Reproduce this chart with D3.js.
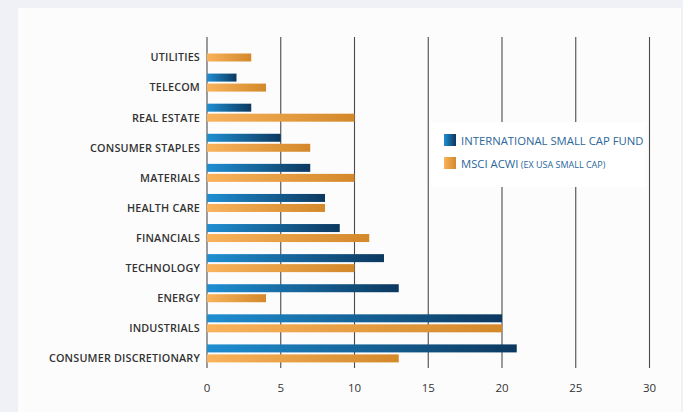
<!DOCTYPE html>
<html>
<head>
<meta charset="utf-8">
<script src="https://cdn.jsdelivr.net/npm/d3@7"></script>
<style>
  html, body { margin: 0; padding: 0; background: #eff1f6; }
  svg { display: block; }
</style>
</head>
<body>
<div id="chart"></div>
<script>
// data, top to bottom
var categories = ["UTILITIES", "TELECOM", "REAL ESTATE", "CONSUMER STAPLES", "MATERIALS",
  "HEALTH CARE", "FINANCIALS", "TECHNOLOGY", "ENERGY", "INDUSTRIALS", "CONSUMER DISCRETIONARY"];
var fundValues = [0, 2, 3, 5, 7, 8, 9, 12, 13, 20, 21];
var indexValues = [3, 4, 10, 7, 10, 8, 11, 10, 4, 20, 13];
var seriesNames = ["INTERNATIONAL SMALL CAP FUND", "MSCI ACWI"];
var seriesNote = ["", "(EX USA SMALL CAP)"];
var xTicks = [0, 5, 10, 15, 20, 25, 30];

var width = 683, height = 412;

var svg = d3.select("#chart").append("svg")
    .attr("width", width)
    .attr("height", height);

// gradients
var defs = svg.append("defs");
function gradient(id, c0, c1) {
  var g = defs.append("linearGradient").attr("id", id)
      .attr("x1", "0%").attr("x2", "100%").attr("y1", "0%").attr("y2", "0%");
  g.append("stop").attr("offset", "0%").attr("stop-color", c0);
  g.append("stop").attr("offset", "100%").attr("stop-color", c1);
}
gradient("gBlue", "#1f8fd2", "#0c385f");
gradient("gOrange", "#f9b35c", "#d3882a");
var fills = ["url(#gBlue)", "url(#gOrange)"];

// white panel
svg.append("rect")
    .attr("x", 18).attr("y", 8)
    .attr("width", 663).attr("height", height - 8)
    .attr("fill", "#fcfcfd");

var xScale = d3.scaleLinear()
    .domain([0, 30])
    .range([207, 649.5]);

var yScale = d3.scaleBand()
    .domain(categories)
    .range([37, 368]);

var ySub = d3.scaleBand()
    .domain([0, 1])
    .range([6.5, 24.5])
    .paddingInner(0.2);

// grid lines
svg.append("g").selectAll("line")
    .data(xTicks)
  .enter().append("line")
    .attr("x1", function(d) { return xScale(d); })
    .attr("x2", function(d) { return xScale(d); })
    .attr("y1", 37)
    .attr("y2", 368)
    .style("stroke", "#4a4a4a")
    .style("stroke-width", 1.1);

// tick labels
svg.append("g").selectAll("text")
    .data(xTicks)
  .enter().append("text")
    .attr("x", function(d) { return xScale(d); })
    .attr("y", 392)
    .attr("text-anchor", "middle")
    .style("font-family", "'Open Sans', sans-serif")
    .style("font-size", "11.5px")
    .style("fill", "#333")
    .text(function(d) { return d; });

// bars
var rows = categories.map(function(c, i) {
  return {cat: c, vals: [fundValues[i], indexValues[i]]};
});

var rowG = svg.append("g").selectAll("g")
    .data(rows)
  .enter().append("g")
    .attr("transform", function(d) { return "translate(0," + yScale(d.cat) + ")"; });

rowG.selectAll("rect")
    .data(function(d) { return d.vals.map(function(v, k) { return {v: v, k: k}; }); })
  .enter().append("rect")
    .filter(function(d) { return d.v > 0; })
    .attr("x", xScale(0))
    .attr("y", function(d) { return ySub(d.k); })
    .attr("width", function(d) { return xScale(d.v) - xScale(0); })
    .attr("height", ySub.bandwidth())
    .attr("fill", function(d) { return fills[d.k]; });

// category labels
rowG.append("text")
    .attr("x", 200)
    .attr("y", ySub(1) + ySub.bandwidth() / 2)
    .attr("dy", "0.36em")
    .attr("text-anchor", "end")
    .style("font-family", "'Open Sans', sans-serif")
    .style("font-weight", 600)
    .style("font-size", "10.8px")
    .style("letter-spacing", "0.18px")
    .style("fill", "#333")
    .text(function(d) { return d.cat; });

// legend
var legend = svg.append("g");
legend.append("rect")
    .attr("x", 431).attr("y", 122)
    .attr("width", 215).attr("height", 65)
    .attr("fill", "#ffffff");

var item = legend.selectAll("g.item")
    .data(seriesNames)
  .enter().append("g")
    .attr("class", "item")
    .attr("transform", function(d, i) { return "translate(444," + (134 + i * 23) + ")"; });

item.append("rect")
    .attr("width", 12).attr("height", 12)
    .attr("fill", function(d, i) { return fills[i]; });

var lt = item.append("text")
    .attr("x", 17)
    .attr("y", 10.5)
    .style("font-family", "'Open Sans', sans-serif")
    .style("font-size", "11.3px")
    .style("fill", "#2c679b");
lt.append("tspan").text(function(d) { return d; });
lt.append("tspan")
    .style("font-size", "9px")
    .text(function(d, i) { return seriesNote[i] ? " " + seriesNote[i] : ""; });
</script>
</body>
</html>
